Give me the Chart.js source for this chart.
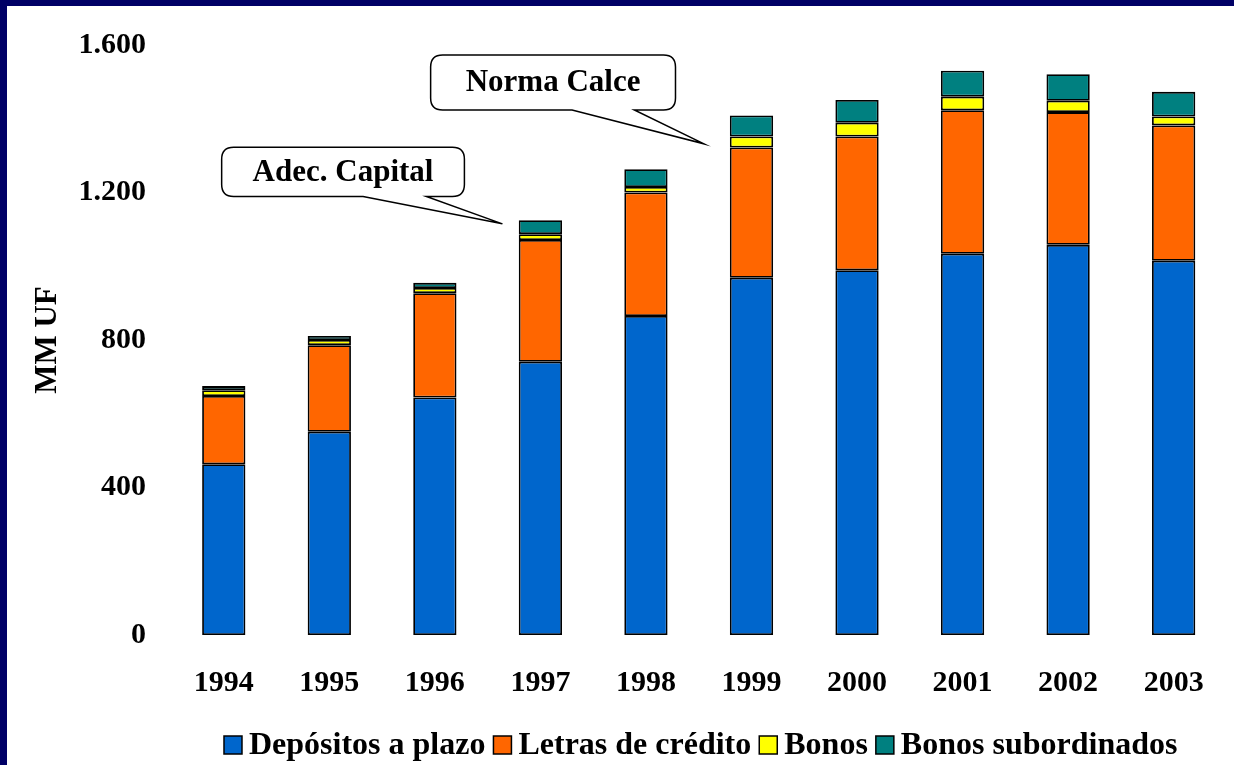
<!DOCTYPE html>
<html>
<head>
<meta charset="utf-8">
<script src="https://cdn.jsdelivr.net/npm/chart.js@4.4.1/dist/chart.umd.min.js"></script>
<style>
  html, body { margin: 0; padding: 0; background: #ffffff; overflow: hidden; }
  #wrap { position: absolute; left: 0; top: 0; width: 1234px; height: 765px; }
</style>
</head>
<body>
<div id="wrap"><canvas id="c" width="1234" height="765"></canvas></div>
<script>
// ---- data ----
const categories = ['1994','1995','1996','1997','1998','1999','2000','2001','2002','2003'];
const depositos   = [463, 551, 644, 741, 865, 969, 989, 1034, 1058, 1015];
const letras      = [185, 235, 283, 330, 335, 353, 363, 389, 360, 367];
const bonos       = [16, 14, 14, 16, 15, 30, 37, 37, 31, 24];
const subordinados= [11, 11, 14, 38, 48, 57, 62, 70, 72, 67];
const seriesNames = ['Depósitos a plazo', 'Letras de crédito', 'Bonos', 'Bonos subordinados'];
const yTicks = [0, 400, 800, 1200, 1600];
const axisTitle = 'MM UF';
const calloutTexts = ['Adec. Capital', 'Norma Calce'];

const FONT = "'Liberation Serif', 'Times New Roman', serif";
const colors = ['#0066CC', '#FF6600', '#FFFF00', '#008080'];

function fmt(v) {
  return String(v).replace(/\B(?=(\d{3})+(?!\d))/g, '.');
}

// callouts anchored in data coordinates (x = category index, y = value)
const callouts = [
  { text: calloutTexts[0], box: [-0.02, 1323, 2.28, 1189], base: [1.32, 1.92], tip: [2.64, 1115] },
  { text: calloutTexts[1], box: [1.96, 1573, 4.28, 1424], base: [3.30, 3.89], tip: [4.55, 1332] }
];

const framePlugin = {
  id: 'frame',
  beforeDraw(chart) {
    const ctx = chart.ctx;
    ctx.save();
    ctx.fillStyle = '#ffffff';
    ctx.fillRect(0, 0, chart.width, chart.height);
    ctx.fillStyle = '#000066';
    ctx.fillRect(0, 0, chart.width, 6);
    ctx.fillRect(0, 0, 7, chart.height);
    ctx.restore();
  }
};

const calloutPlugin = {
  id: 'callouts',
  afterDraw(chart) {
    const ctx = chart.ctx;
    const xs = chart.scales.x, ys = chart.scales.y;
    const px = i => xs.getPixelForValue(0) + i * (xs.getPixelForValue(1) - xs.getPixelForValue(0));
    const py = v => ys.getPixelForValue(v);
    callouts.forEach(c => {
      const l = px(c.box[0]), r = px(c.box[2]), t = py(c.box[1]), b = py(c.box[3]);
      const b1 = px(c.base[0]), b2 = px(c.base[1]);
      const tx = px(c.tip[0]), ty = py(c.tip[1]);
      const rad = 12;
      ctx.save();
      ctx.beginPath();
      ctx.moveTo(l + rad, t);
      ctx.lineTo(r - rad, t);
      ctx.quadraticCurveTo(r, t, r, t + rad);
      ctx.lineTo(r, b - rad);
      ctx.quadraticCurveTo(r, b, r - rad, b);
      ctx.lineTo(b2, b);
      ctx.lineTo(tx, ty);
      ctx.lineTo(b1, b);
      ctx.lineTo(l + rad, b);
      ctx.quadraticCurveTo(l, b, l, b - rad);
      ctx.lineTo(l, t + rad);
      ctx.quadraticCurveTo(l, t, l + rad, t);
      ctx.closePath();
      ctx.fillStyle = '#ffffff';
      ctx.fill();
      ctx.lineWidth = 1.5;
      ctx.strokeStyle = '#000000';
      ctx.stroke();
      ctx.fillStyle = '#000000';
      ctx.font = 'bold 31px ' + FONT;
      ctx.textAlign = 'center';
      ctx.textBaseline = 'middle';
      ctx.fillText(c.text, (l + r) / 2, (t + b) / 2 + 1);
      ctx.restore();
    });
  }
};

// legend drawn below the x axis, using the chart's own dataset styles
const legendPlugin = {
  id: 'bottomLegend',
  afterDraw(chart) {
    const ctx = chart.ctx;
    const box = 18, gapText = 7, gapItem = 8;
    ctx.save();
    ctx.font = 'bold 32px ' + FONT;
    const items = chart.data.datasets.map(ds => ({
      text: ds.label, fill: ds.backgroundColor, w: ctx.measureText(ds.label).width
    }));
    let total = 0;
    items.forEach((it, i) => { total += box + gapText + it.w + (i < items.length - 1 ? gapItem : 0); });
    const ca = chart.chartArea;
    let x = (ca.left + ca.right) / 2 + 2 - total / 2;
    const cy = ca.bottom + 110;
    items.forEach(it => {
      ctx.fillStyle = it.fill;
      ctx.fillRect(x, cy - box / 2, box, box);
      ctx.lineWidth = 1.5;
      ctx.strokeStyle = '#000000';
      ctx.strokeRect(x, cy - box / 2, box, box);
      ctx.fillStyle = '#000000';
      ctx.textAlign = 'left';
      ctx.textBaseline = 'middle';
      ctx.fillText(it.text, x + box + gapText, cy + 1);
      x += box + gapText + it.w + gapItem;
    });
    ctx.restore();
  }
};

const seriesData = [depositos, letras, bonos, subordinados];

new Chart(document.getElementById('c'), {
  type: 'bar',
  data: {
    labels: categories,
    datasets: seriesData.map((d, i) => ({
      label: seriesNames[i],
      data: d,
      backgroundColor: colors[i],
      borderColor: '#000000',
      borderWidth: 1.8,
      borderSkipped: false,
      barPercentage: 0.41,
      categoryPercentage: 1.0
    }))
  },
  options: {
    responsive: false,
    animation: false,
    devicePixelRatio: 1,
    layout: { padding: { top: 45, right: 7, bottom: 46, left: 0 } },
    plugins: {
      legend: { display: false },
      tooltip: { enabled: false }
    },
    scales: {
      x: {
        stacked: true,
        grid: { display: false, drawTicks: false },
        border: { display: false },
        ticks: {
          color: '#000000',
          font: { family: FONT, size: 30, weight: 'bold' },
          padding: 30,
          maxRotation: 0
        },
        afterFit(s) { s.height = 84; }
      },
      y: {
        stacked: true,
        min: 0,
        max: 1600,
        grid: { display: false, drawTicks: false },
        border: { display: false },
        afterBuildTicks(s) { s.ticks = yTicks.map(v => ({ value: v })); },
        ticks: {
          color: '#000000',
          font: { family: FONT, size: 30, weight: 'bold' },
          padding: 25,
          callback: v => fmt(v)
        },
        title: {
          display: true,
          text: axisTitle,
          color: '#000000',
          font: { family: FONT, size: 31, weight: 'bold' },
          padding: { top: 29, bottom: 0 }
        },
        afterFit(s) { s.width = 171; }
      }
    }
  },
  plugins: [framePlugin, calloutPlugin, legendPlugin]
});
</script>
</body>
</html>
